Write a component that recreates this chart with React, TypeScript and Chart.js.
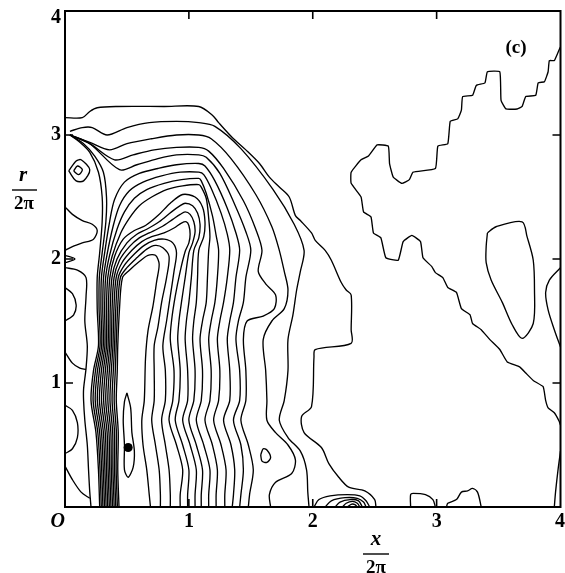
import { useEffect, useRef } from 'react';
import { Chart, registerables } from 'chart.js';
Chart.register(...registerables);

type Pt = [number, number];

// axis ticks
const xTickValues = [0, 1, 2, 3, 4];
const xTickLabels = ['O', '1', '2', '3', '4'];
const yTickValues = [1, 2, 3, 4];
const yTickLabels = ['1', '2', '3', '4'];
const innerTickValues = [1, 2, 3];

// marked point
const markerPoint: Pt[] = [[0.51, 0.48]];

// outer arcs starting at the upper-left corner
const arc0: Pt[] = [[0,3.14],[0.14,3.14],[0.2,3.19],[0.26,3.22],[0.42,3.23],[0.8,3.23],[1.08,3.23],[1.19,3.16],[1.24,3.10],[1.35,2.98],[1.46,2.88],[1.57,2.77],[1.65,2.66],[1.73,2.58],[1.81,2.5],[1.86,2.35],[1.9,2.31],[1.99,2.21],[2.02,2.15],[2.1,2.07],[2.15,1.99],[2.23,1.81],[2.27,1.75],[2.31,1.71],[2.31,1.43],[2.31,1.32],[2.02,1.27],[2.01,1.21],[1.99,0.81],[1.91,0.73],[1.93,0.6],[2.07,0.48],[2.13,0.35],[2.21,0.24],[2.29,0.16],[2.42,0.13],[2.5,0.06],[2.51,0]];
const arc1: Pt[] = [[0.04,3.03],[0.14,3.06],[0.22,3.06],[0.34,3.0],[0.5,3.06],[0.68,3.1],[0.9,3.11],[1.08,3.10],[1.21,3.07],[1.42,2.89],[1.68,2.56],[1.85,2.28],[1.93,2.07],[1.9,1.9],[1.87,1.75],[1.84,1.55],[1.8,1.35],[1.8,1.1],[1.77,0.86],[1.73,0.7],[1.8,0.56],[1.9,0.45],[1.95,0.3],[1.96,0.12],[1.97,0]];
const arc2: Pt[] = [[0.04,3.0],[0.2,2.94],[0.36,2.88],[0.5,2.93],[0.7,2.97],[0.9,3.0],[1.08,3.0],[1.18,2.97],[1.34,2.81],[1.54,2.52],[1.67,2.26],[1.73,2.07],[1.77,1.9],[1.8,1.75],[1.77,1.6],[1.67,1.5],[1.6,1.35],[1.62,1.1],[1.63,0.86],[1.63,0.7],[1.7,0.6],[1.8,0.5],[1.86,0.38],[1.83,0.27],[1.7,0.2],[1.65,0.1],[1.66,0]];
const arc3: Pt[] = [[0.04,3.0],[0.2,2.93],[0.4,2.8],[0.55,2.84],[0.72,2.88],[0.9,2.9],[1.08,2.9],[1.16,2.87],[1.28,2.73],[1.44,2.47],[1.54,2.24],[1.59,2.07],[1.56,1.9],[1.62,1.8],[1.7,1.71],[1.69,1.6],[1.6,1.54],[1.47,1.5],[1.44,1.35],[1.46,1.1],[1.46,0.86],[1.42,0.7],[1.48,0.5],[1.52,0.3],[1.49,0.1],[1.48,0]];
const arc4: Pt[] = [[0.04,3.0],[0.2,2.93],[0.44,2.72],[0.58,2.76],[0.75,2.81],[0.9,2.84],[1.08,2.84],[1.14,2.82],[1.25,2.69],[1.37,2.44],[1.46,2.22],[1.5,2.07],[1.46,1.85],[1.44,1.65],[1.4,1.5],[1.38,1.35],[1.41,1.1],[1.41,0.86],[1.36,0.7],[1.42,0.5],[1.44,0.3],[1.42,0.1],[1.41,0]];

// dense vertical band, lines leaving it towards the upper-left corner
const band0: Pt[] = [[0.28,0],[0.27,0.3],[0.25,0.6],[0.21,0.86],[0.23,1.1],[0.27,1.3],[0.26,1.6],[0.26,1.85],[0.28,2.05],[0.3,2.3],[0.3,2.5],[0.27,2.7],[0.2,2.86],[0.11,2.95],[0.04,3.0]];
const band1: Pt[] = [[0.293,0],[0.283,0.3],[0.265,0.6],[0.227,0.86],[0.246,1.1],[0.283,1.3],[0.275,1.6],[0.277,1.85],[0.3,2.05],[0.33,2.3],[0.335,2.5],[0.31,2.7],[0.24,2.83],[0.15,2.93],[0.04,3.0]];

// dense vertical band, lines curving over the top (nested arcs)
const arc5: Pt[] = [[0.306,0],[0.296,0.3],[0.28,0.6],[0.244,0.86],[0.262,1.1],[0.296,1.3],[0.29,1.6],[0.294,1.85],[0.32,2.05],[0.36,2.3],[0.4,2.48],[0.48,2.62],[0.6,2.69],[0.75,2.73],[0.9,2.76],[1.08,2.77],[1.13,2.75],[1.21,2.63],[1.31,2.41],[1.38,2.21],[1.41,2.07],[1.38,1.85],[1.36,1.65],[1.33,1.5],[1.31,1.35],[1.33,1.1],[1.33,0.86],[1.28,0.7],[1.34,0.5],[1.37,0.3],[1.36,0.1],[1.35,0]];
const arc6: Pt[] = [[0.319,0],[0.309,0.3],[0.295,0.6],[0.261,0.86],[0.278,1.1],[0.309,1.3],[0.305,1.6],[0.311,1.85],[0.34,2.04],[0.39,2.27],[0.44,2.43],[0.52,2.55],[0.63,2.62],[0.78,2.67],[0.93,2.7],[1.08,2.7],[1.12,2.68],[1.18,2.57],[1.26,2.37],[1.31,2.2],[1.33,2.07],[1.31,1.85],[1.28,1.65],[1.25,1.5],[1.23,1.35],[1.25,1.1],[1.24,0.86],[1.2,0.7],[1.26,0.5],[1.3,0.3],[1.29,0.1],[1.29,0]];
const arc7: Pt[] = [[0.332,0],[0.322,0.3],[0.31,0.6],[0.278,0.86],[0.294,1.1],[0.322,1.3],[0.32,1.6],[0.328,1.85],[0.36,2.03],[0.42,2.24],[0.48,2.38],[0.56,2.49],[0.66,2.56],[0.8,2.61],[0.94,2.64],[1.08,2.65],[1.1,2.63],[1.14,2.53],[1.19,2.35],[1.22,2.19],[1.24,2.07],[1.23,1.85],[1.21,1.65],[1.18,1.5],[1.16,1.35],[1.18,1.1],[1.17,0.86],[1.13,0.7],[1.19,0.5],[1.23,0.3],[1.22,0.1],[1.22,0]];
const arc8: Pt[] = [[0.345,0],[0.335,0.3],[0.325,0.6],[0.295,0.86],[0.31,1.1],[0.335,1.3],[0.335,1.6],[0.345,1.85],[0.38,2.02],[0.45,2.21],[0.52,2.33],[0.6,2.43],[0.7,2.5],[0.82,2.56],[0.95,2.59],[1.08,2.6],[1.1,2.58],[1.14,2.49],[1.16,2.33],[1.17,2.18],[1.16,2.07],[1.15,1.85],[1.14,1.65],[1.11,1.5],[1.09,1.35],[1.11,1.1],[1.1,0.86],[1.06,0.7],[1.12,0.5],[1.17,0.3],[1.16,0.1],[1.16,0]];
const arc9: Pt[] = [[0.358,0],[0.348,0.3],[0.34,0.6],[0.312,0.86],[0.326,1.1],[0.348,1.3],[0.35,1.6],[0.362,1.85],[0.4,2.02],[0.47,2.16],[0.56,2.23],[0.65,2.27],[0.75,2.35],[0.85,2.45],[0.95,2.52],[1.05,2.5],[1.11,2.42],[1.13,2.3],[1.12,2.18],[1.08,2.07],[1.07,1.85],[1.06,1.65],[1.04,1.5],[1.03,1.35],[1.05,1.1],[1.04,0.86],[1.0,0.7],[1.06,0.5],[1.11,0.3],[1.1,0.1],[1.1,0]];
const arc10: Pt[] = [[0.371,0],[0.361,0.3],[0.355,0.6],[0.329,0.86],[0.342,1.1],[0.361,1.3],[0.365,1.6],[0.379,1.85],[0.42,2.0],[0.5,2.13],[0.58,2.2],[0.66,2.24],[0.76,2.3],[0.86,2.38],[0.93,2.43],[0.97,2.45],[1.03,2.43],[1.07,2.37],[1.09,2.28],[1.08,2.17],[1.04,2.07],[1.02,1.85],[1.0,1.65],[0.98,1.5],[0.97,1.35],[0.99,1.1],[0.99,0.86],[0.95,0.7],[1.01,0.5],[1.06,0.3],[1.05,0.1],[1.05,0]];
const arc11: Pt[] = [[0.384,0],[0.374,0.3],[0.37,0.6],[0.346,0.86],[0.358,1.1],[0.374,1.3],[0.38,1.6],[0.396,1.85],[0.44,1.99],[0.52,2.1],[0.6,2.17],[0.68,2.21],[0.78,2.26],[0.87,2.32],[0.93,2.36],[0.97,2.38],[1.01,2.36],[1.04,2.3],[1.05,2.22],[1.03,2.13],[1.0,2.05],[0.97,1.85],[0.94,1.65],[0.92,1.5],[0.91,1.35],[0.93,1.1],[0.92,0.86],[0.89,0.7],[0.95,0.5],[1.0,0.3],[0.99,0.1],[0.99,0]];
const arc12: Pt[] = [[0.397,0],[0.387,0.3],[0.385,0.6],[0.363,0.86],[0.374,1.1],[0.387,1.3],[0.395,1.6],[0.413,1.85],[0.46,1.97],[0.54,2.07],[0.62,2.14],[0.7,2.18],[0.8,2.21],[0.88,2.25],[0.94,2.29],[0.98,2.3],[1.0,2.27],[1.01,2.2],[1.0,2.13],[0.97,2.06],[0.93,1.9],[0.89,1.7],[0.86,1.5],[0.85,1.35],[0.88,1.1],[0.87,0.86],[0.84,0.7],[0.9,0.5],[0.95,0.3],[0.93,0.1],[0.93,0]];

// dense vertical band, innermost hairpins
const hair10: Pt[] = [[0.41,0],[0.4,0.3],[0.4,0.6],[0.38,0.86],[0.39,1.1],[0.4,1.3],[0.41,1.6],[0.43,1.85],[0.48,1.95],[0.56,2.04],[0.64,2.11],[0.72,2.15],[0.8,2.16],[0.87,2.13],[0.9,2.05],[0.88,1.9],[0.85,1.7],[0.82,1.5],[0.79,1.3],[0.81,1.1],[0.81,0.86],[0.78,0.7],[0.81,0.5],[0.84,0.3],[0.85,0.1],[0.85,0]];
const hair11: Pt[] = [[0.423,0],[0.413,0.3],[0.415,0.6],[0.397,0.86],[0.406,1.1],[0.413,1.3],[0.425,1.6],[0.447,1.85],[0.5,1.93],[0.58,2.01],[0.66,2.08],[0.73,2.11],[0.79,2.09],[0.84,2.02],[0.82,1.85],[0.78,1.65],[0.75,1.45],[0.72,1.3],[0.72,1.1],[0.72,0.86],[0.7,0.7],[0.73,0.5],[0.76,0.3],[0.77,0.1],[0.77,0]];
const hair12: Pt[] = [[0.436,0],[0.426,0.3],[0.43,0.6],[0.414,0.86],[0.422,1.1],[0.426,1.3],[0.44,1.6],[0.464,1.85],[0.52,1.91],[0.6,1.98],[0.67,2.03],[0.73,2.03],[0.76,1.96],[0.74,1.82],[0.71,1.62],[0.67,1.42],[0.65,1.2],[0.64,0.86],[0.62,0.7],[0.63,0.5],[0.66,0.3],[0.68,0.1],[0.69,0]];

// small features near the left edge
const leftTongue: Pt[] = [[0,2.42],[0.06,2.36],[0.14,2.31],[0.22,2.28],[0.26,2.23],[0.23,2.16],[0.14,2.13],[0.06,2.1],[0,2.07]];
const leftTriangle: Pt[] = [[0,2.03],[0.08,2.0],[0,1.97]];
const leftLong: Pt[] = [[0,1.93],[0.1,1.91],[0.17,1.85],[0.17,1.7],[0.16,1.5],[0.18,1.3],[0.17,1.12],[0.15,0.95],[0.15,0.86],[0.16,0.7],[0.18,0.5],[0.19,0.3],[0.2,0.12],[0.21,0]];
const leftBranch: Pt[] = [[0,1.25],[0.06,1.16],[0.12,1.12],[0.17,1.11]];
const leftBottom: Pt[] = [[0,0.33],[0.06,0.22],[0.13,0.12],[0.2,0.07]];
const leftBulgeLow: Pt[] = [[0,0.82],[0.06,0.78],[0.1,0.68],[0.1,0.56],[0.06,0.47],[0,0.43]];
const leftBulgeHigh: Pt[] = [[0,1.77],[0.06,1.72],[0.09,1.63],[0.07,1.55],[0,1.5]];
const diamondOuter: Pt[] = [[0.03,2.71],[0.09,2.79],[0.13,2.8],[0.2,2.72],[0.15,2.63],[0.09,2.63],[0.03,2.71]];
const diamondInner: Pt[] = [[0.07,2.71],[0.1,2.75],[0.14,2.72],[0.11,2.68],[0.07,2.71]];

// closed loops
const markerLoop: Pt[] = [[0.5,0.92],[0.53,0.8],[0.54,0.6],[0.56,0.45],[0.55,0.32],[0.51,0.24],[0.48,0.3],[0.48,0.5],[0.47,0.7],[0.48,0.85],[0.5,0.92]];
const smallLoop: Pt[] = [[1.58,0.42],[1.6,0.47],[1.63,0.46],[1.66,0.4],[1.63,0.36],[1.59,0.37],[1.58,0.42]];
const rightLoop: Pt[] = [[3.41,2.21],[3.48,2.26],[3.69,2.30],[3.73,2.18],[3.78,1.99],[3.79,1.75],[3.78,1.48],[3.69,1.36],[3.61,1.47],[3.53,1.65],[3.44,1.83],[3.40,1.97],[3.40,2.10],[3.41,2.21]];

// bottom hump near x/2pi ~ 2.3
const hump1: Pt[] = [[2.01,0],[2.05,0.06],[2.14,0.09],[2.28,0.1],[2.38,0.09],[2.43,0.05],[2.46,0]];
const hump2: Pt[] = [[2.1,0],[2.15,0.05],[2.26,0.075],[2.36,0.07],[2.41,0.04],[2.43,0]];
const hump3: Pt[] = [[2.18,0],[2.22,0.04],[2.3,0.06],[2.37,0.05],[2.4,0]];
const hump4: Pt[] = [[2.24,0],[2.27,0.03],[2.32,0.045],[2.36,0.03],[2.38,0]];
const hump5: Pt[] = [[2.28,0],[2.31,0.022],[2.34,0.02],[2.36,0]];

// right half
const stairLine: Pt[] = [[4.0,3.71],[3.99,3.69],[3.95,3.60],[3.91,3.60],[3.90,3.51],[3.87,3.43],[3.82,3.42],[3.80,3.32],[3.72,3.31],[3.69,3.23],[3.65,3.21],[3.56,3.21],[3.52,3.28],[3.51,3.51],[3.41,3.51],[3.39,3.42],[3.32,3.40],[3.29,3.32],[3.21,3.31],[3.20,3.20],[3.17,3.13],[3.11,3.11],[3.09,2.93],[3.01,2.91],[2.99,2.73],[2.81,2.70],[2.78,2.64],[2.72,2.61],[2.65,2.66],[2.62,2.77],[2.61,2.91],[2.52,2.92],[2.45,2.83],[2.39,2.80],[2.31,2.70],[2.31,2.61],[2.39,2.50],[2.41,2.38],[2.47,2.34],[2.49,2.21],[2.55,2.17],[2.59,2.01],[2.69,1.99],[2.73,2.14],[2.80,2.19],[2.87,2.14],[2.89,2.01],[2.96,1.94],[2.99,1.89],[3.05,1.85],[3.09,1.77],[3.16,1.73],[3.20,1.60],[3.27,1.55],[3.29,1.48],[3.36,1.43],[3.43,1.35],[3.51,1.27],[3.57,1.17],[3.67,1.13],[3.72,1.08],[3.78,1.02],[3.86,0.97],[3.88,0.86],[3.90,0.80],[3.95,0.76],[3.99,0.69],[4.0,0.66]];
const rightEdgeUpper: Pt[] = [[4.0,1.93],[3.91,1.83],[3.88,1.73],[3.90,1.59],[3.95,1.43],[4.0,1.29]];
const rightEdgeLower: Pt[] = [[4.0,0.45],[3.98,0.3],[3.96,0.12],[3.95,0]];
const bottomBumpA: Pt[] = [[2.79,0],[2.79,0.1],[2.81,0.11],[2.91,0.1],[2.97,0.06],[2.99,0]];
const bottomBumpB: Pt[] = [[3.08,0],[3.09,0.03],[3.16,0.06],[3.20,0.12],[3.25,0.13],[3.29,0.15],[3.33,0.12],[3.36,0]];

const smoothLines: Pt[][] = [
  arc0, arc1, arc2, arc3, arc4,
  band0, band1, arc5, arc6, arc7, arc8, arc9, arc10, arc11, arc12,
  hair10, hair11, hair12,
  leftTongue, leftTriangle, leftLong, leftBranch, leftBottom, leftBulgeLow, leftBulgeHigh,
  diamondOuter, diamondInner, markerLoop, smallLoop, rightLoop,
  hump1, hump2, hump3, hump4, hump5,
  rightEdgeUpper, rightEdgeLower, bottomBumpA, bottomBumpB,
];
const stepLines: Pt[][] = [stairLine];

const toXY = (pts: Pt[]) => pts.map(([x, y]) => ({ x, y }));

const SERIF = '"Liberation Serif", "Times New Roman", serif';

const decorPlugin = {
  id: 'decor',
  afterDatasetsDraw(chart: any) {
    const { ctx, chartArea: a, scales } = chart;
    const xs = scales.x;
    const ys = scales.y;
    ctx.save();
    ctx.strokeStyle = '#000';
    ctx.lineWidth = 2;
    ctx.strokeRect(a.left, a.top, a.right - a.left, a.bottom - a.top);

    ctx.lineWidth = 1.6;
    ctx.beginPath();
    for (const v of innerTickValues) {
      const px = xs.getPixelForValue(v);
      ctx.moveTo(px, a.top); ctx.lineTo(px, a.top + 8);
      ctx.moveTo(px, a.bottom); ctx.lineTo(px, a.bottom - 8);
      const py = ys.getPixelForValue(v);
      ctx.moveTo(a.left, py); ctx.lineTo(a.left + 8, py);
      ctx.moveTo(a.right, py); ctx.lineTo(a.right - 8, py);
    }
    ctx.stroke();

    ctx.fillStyle = '#000';
    ctx.textBaseline = 'middle';
    xTickValues.forEach((v, i) => {
      const px = xs.getPixelForValue(v);
      const label = xTickLabels[i];
      if (label === 'O') {
        ctx.font = `italic bold 20px ${SERIF}`;
        ctx.textAlign = 'right';
        ctx.fillText(label, a.left, a.bottom + 15);
      } else {
        ctx.font = `bold 20px ${SERIF}`;
        ctx.textAlign = 'center';
        ctx.fillText(label, Math.min(px, chart.width - 5), a.bottom + 15);
      }
    });
    ctx.font = `bold 20px ${SERIF}`;
    ctx.textAlign = 'right';
    yTickValues.forEach((v, i) => {
      const py = ys.getPixelForValue(v);
      ctx.fillText(yTickLabels[i], a.left - 4, Math.max(py, a.top + 7));
    });

    // r / 2pi
    ctx.textAlign = 'center';
    ctx.font = `italic bold 21px ${SERIF}`;
    ctx.fillText('r', 23, 176);
    ctx.font = `bold 19px ${SERIF}`;
    ctx.fillText('2π', 24, 204);
    ctx.lineWidth = 1.4;
    ctx.beginPath();
    ctx.moveTo(12, 190); ctx.lineTo(37, 190);
    ctx.stroke();

    // x / 2pi
    ctx.font = `italic bold 21px ${SERIF}`;
    ctx.fillText('x', 376, 540);
    ctx.font = `bold 19px ${SERIF}`;
    ctx.fillText('2π', 376, 568);
    ctx.beginPath();
    ctx.moveTo(363, 554); ctx.lineTo(389, 554);
    ctx.stroke();

    // panel tag
    ctx.font = `bold 19px ${SERIF}`;
    ctx.fillText('(c)', 516, 48);
    ctx.restore();
  },
};

export default function App() {
  const ref = useRef<HTMLCanvasElement | null>(null);
  useEffect(() => {
    if (!ref.current) return;
    const lineStyle = { showLine: true, borderColor: '#000', borderWidth: 1.35, pointRadius: 0, fill: false };
    const datasets: any[] = [
      ...smoothLines.map((l) => ({ ...lineStyle, data: toXY(l), tension: 0.3 })),
      ...stepLines.map((l) => ({ ...lineStyle, data: toXY(l), tension: 0.12 })),
      { data: toXY(markerPoint), showLine: false, pointRadius: 4.5, pointBackgroundColor: '#000', pointBorderColor: '#000', borderWidth: 0 },
    ];
    const chart = new Chart(ref.current, {
      type: 'scatter',
      data: { datasets },
      options: {
        responsive: false,
        animation: false,
        layout: { padding: { left: 65, right: 2, top: 11, bottom: 66 } },
        scales: {
          x: { type: 'linear', min: 0, max: 4, display: false },
          y: { type: 'linear', min: 0, max: 4, display: false },
        },
        plugins: { legend: { display: false }, tooltip: { enabled: false } },
        events: [],
      },
      plugins: [decorPlugin],
    } as any);
    return () => chart.destroy();
  }, []);
  return (
    <div style={{ position: 'absolute', left: 0, top: 0, width: 565, height: 573, background: '#fff' }}>
      <canvas ref={ref} width={565} height={573} style={{ display: 'block' }} />
    </div>
  );
}
